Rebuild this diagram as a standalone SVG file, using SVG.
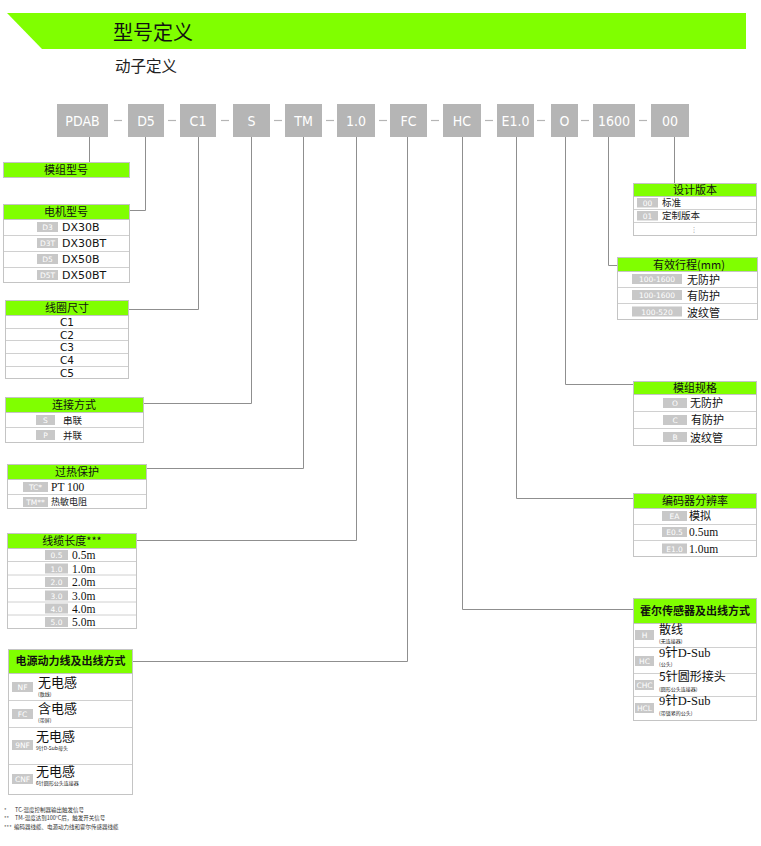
<svg xmlns="http://www.w3.org/2000/svg" width="761" height="846" viewBox="0 0 761 846">
<style>
.cjk{font-family:"Noto Sans CJK SC","Noto Sans",sans-serif}
.sans{font-family:"DejaVu Sans","Noto Sans CJK SC",sans-serif}
.serif{font-family:"Liberation Serif","Noto Sans CJK SC",serif}
.code rect{fill:#b5b5b5}
.code text{font-family:"DejaVu Sans Condensed","DejaVu Sans",sans-serif;font-stretch:condensed;font-size:14px;fill:#fff;text-anchor:middle}
.dash{stroke:#b5b5b5;stroke-width:1.2}
.box{fill:#fff;stroke:#c4c4c4;stroke-width:1}
.hd{fill:#80ff00;stroke:#c4c4c4;stroke-width:1}
.ln{stroke:#d0d0d0;stroke-width:1}
.ht{font-family:"Noto Sans CJK SC",sans-serif;font-size:11px;fill:#111;text-anchor:middle}
.lb{fill:#c8c8c8}
.lt{font-family:"DejaVu Sans",sans-serif;font-size:7.5px;fill:#fff;text-anchor:middle}
.t{font-size:11px;fill:#111}
.sub{font-family:"Noto Sans CJK SC",sans-serif;font-size:5px;fill:#222}
.con{fill:none;stroke:#8f8f8f;stroke-width:1}
.fn{font-family:"Noto Sans CJK SC",sans-serif;font-size:5.5px;fill:#333}
</style>

<g id="header">
<polygon points="7,13 746,13 746,49 42,49" fill="#80ff00"/>
<text x="113" y="40" class="cjk" font-size="20" fill="#111">型号定义</text>
<text x="115" y="72" class="cjk" font-size="15.5" fill="#222">动子定义</text>
</g>

<g id="code-row">
<g class="code">
<rect x="57" y="104" width="51" height="33"/><text x="82.5" y="126">PDAB</text>
<rect x="128" y="104" width="36" height="33"/><text x="146" y="126">D5</text>
<rect x="180" y="104" width="36" height="33"/><text x="198" y="126">C1</text>
<rect x="233" y="104" width="37" height="33"/><text x="251.5" y="126">S</text>
<rect x="285" y="104" width="37" height="33"/><text x="303.5" y="126">TM</text>
<rect x="337" y="104" width="38" height="33"/><text x="356" y="126">1.0</text>
<rect x="390" y="104" width="37" height="33"/><text x="408.5" y="126">FC</text>
<rect x="443" y="104" width="38" height="33"/><text x="462" y="126">HC</text>
<rect x="497" y="104" width="37" height="33"/><text x="515.5" y="126">E1.0</text>
<rect x="551" y="104" width="27" height="33"/><text x="564.5" y="126">O</text>
<rect x="593" y="104" width="42" height="33"/><text x="614" y="126">1600</text>
<rect x="651" y="104" width="38" height="33"/><text x="670" y="126">00</text>
</g>
<g class="dash">
<line x1="114" y1="120.5" x2="122" y2="120.5"/>
<line x1="168" y1="120.5" x2="176" y2="120.5"/>
<line x1="221" y1="120.5" x2="229" y2="120.5"/>
<line x1="274" y1="120.5" x2="282" y2="120.5"/>
<line x1="326" y1="120.5" x2="334" y2="120.5"/>
<line x1="379" y1="120.5" x2="387" y2="120.5"/>
<line x1="431" y1="120.5" x2="439" y2="120.5"/>
<line x1="485" y1="120.5" x2="493" y2="120.5"/>
<line x1="537" y1="120.5" x2="545" y2="120.5"/>
<line x1="581" y1="120.5" x2="589" y2="120.5"/>
<line x1="639" y1="120.5" x2="647" y2="120.5"/>
</g>
</g>

<g id="connectors">
<path class="con" d="M89.5 137V162"/>
<path class="con" d="M145.5 137V210.5H130"/>
<path class="con" d="M198.5 137V309.5H129"/>
<path class="con" d="M251.5 137V403.5H144"/>
<path class="con" d="M303.5 137V468.5H147"/>
<path class="con" d="M356.5 137V540.5H137"/>
<path class="con" d="M407.5 137V661.5H133"/>
<path class="con" d="M462.5 137V609.5H633"/>
<path class="con" d="M516.5 137V498.5H633"/>
<path class="con" d="M565.5 137V384.5H633"/>
<path class="con" d="M608.5 137V265.5H617"/>
<path class="con" d="M674.5 137V183"/>
</g>

<g id="node-module">
<rect class="hd" x="3.5" y="162.5" width="126" height="15"/>
<text class="ht" x="66" y="174">模组型号</text>
</g>

<g id="node-motor">
<rect class="box" x="3.5" y="204.5" width="126" height="78"/>
<rect class="hd" x="3.5" y="204.5" width="126" height="15"/>
<text class="ht" x="66" y="216">电机型号</text>
<line class="ln" x1="4" y1="235.5" x2="129" y2="235.5"/>
<line class="ln" x1="4" y1="251.5" x2="129" y2="251.5"/>
<line class="ln" x1="4" y1="267.5" x2="129" y2="267.5"/>
<rect class="lb" x="37" y="222" width="21" height="10"/><text class="lt" x="47.5" y="230">D3</text>
<rect class="lb" x="37" y="238" width="21" height="10"/><text class="lt" x="47.5" y="246">D3T</text>
<rect class="lb" x="37" y="254" width="21" height="10"/><text class="lt" x="47.5" y="262">D5</text>
<rect class="lb" x="37" y="270" width="21" height="10"/><text class="lt" x="47.5" y="278">D5T</text>
<text class="sans t" x="62" y="231">DX30B</text>
<text class="sans t" x="62" y="247">DX30BT</text>
<text class="sans t" x="62" y="263">DX50B</text>
<text class="sans t" x="62" y="279">DX50BT</text>
</g>

<g id="node-coil">
<rect class="box" x="5.5" y="300.5" width="123" height="78"/>
<rect class="hd" x="5.5" y="300.5" width="123" height="15"/>
<text class="ht" x="67" y="312">线圈尺寸</text>
<line class="ln" x1="6" y1="328.5" x2="128" y2="328.5"/>
<line class="ln" x1="6" y1="340.5" x2="128" y2="340.5"/>
<line class="ln" x1="6" y1="353.5" x2="128" y2="353.5"/>
<line class="ln" x1="6" y1="366.5" x2="128" y2="366.5"/>
<g class="sans" font-size="10.5" fill="#111" text-anchor="middle">
<text x="67" y="326">C1</text>
<text x="67" y="338.5">C2</text>
<text x="67" y="351">C3</text>
<text x="67" y="364">C4</text>
<text x="67" y="376.5">C5</text>
</g>
</g>

<g id="node-connect">
<rect class="box" x="5.5" y="397.5" width="138" height="45"/>
<rect class="hd" x="5.5" y="397.5" width="138" height="15"/>
<text class="ht" x="74" y="409">连接方式</text>
<line class="ln" x1="6" y1="427.5" x2="143" y2="427.5"/>
<rect class="lb" x="36" y="415" width="19" height="10"/><text class="lt" x="45.5" y="423">S</text>
<rect class="lb" x="36" y="430" width="19" height="10"/><text class="lt" x="45.5" y="438">P</text>
<text class="cjk" font-size="9.5" fill="#222" x="63" y="424">串联</text>
<text class="cjk" font-size="9.5" fill="#222" x="63" y="439">并联</text>
</g>

<g id="node-overheat">
<rect class="box" x="7.5" y="464.5" width="139" height="44"/>
<rect class="hd" x="7.5" y="464.5" width="139" height="15"/>
<text class="ht" x="77" y="476">过热保护</text>
<line class="ln" x1="8" y1="494.5" x2="146" y2="494.5"/>
<rect class="lb" x="23" y="482" width="25" height="10"/><text class="lt" x="35.5" y="490">TC*</text>
<rect class="lb" x="23" y="497" width="25" height="10"/><text class="lt" x="35.5" y="505">TM**</text>
<text class="serif" font-size="11.5" fill="#111" x="51" y="491">PT 100</text>
<text class="cjk" font-size="9" fill="#222" x="51" y="505">热敏电阻</text>
</g>

<g id="node-cable">
<rect class="box" x="7.5" y="533.5" width="129" height="95"/>
<rect class="hd" x="7.5" y="533.5" width="129" height="15"/>
<text class="ht" x="72" y="545">线缆长度***</text>
<line class="ln" x1="8" y1="561.5" x2="136" y2="561.5"/>
<line class="ln" x1="8" y1="575" x2="136" y2="575"/>
<line class="ln" x1="8" y1="588.5" x2="136" y2="588.5"/>
<line class="ln" x1="8" y1="602" x2="136" y2="602"/>
<line class="ln" x1="8" y1="615" x2="136" y2="615"/>
<rect class="lb" x="45" y="550" width="23" height="10"/><text class="lt" x="56.5" y="558">0.5</text>
<rect class="lb" x="45" y="563.5" width="23" height="10"/><text class="lt" x="56.5" y="571.5">1.0</text>
<rect class="lb" x="45" y="577" width="23" height="10"/><text class="lt" x="56.5" y="585">2.0</text>
<rect class="lb" x="45" y="590.5" width="23" height="10"/><text class="lt" x="56.5" y="598.5">3.0</text>
<rect class="lb" x="45" y="603.5" width="23" height="10"/><text class="lt" x="56.5" y="611.5">4.0</text>
<rect class="lb" x="45" y="617" width="23" height="10"/><text class="lt" x="56.5" y="625">5.0</text>
<g class="serif" font-size="11.5" fill="#111">
<text x="72" y="559">0.5m</text>
<text x="72" y="572.5">1.0m</text>
<text x="72" y="586">2.0m</text>
<text x="72" y="599.5">3.0m</text>
<text x="72" y="612.5">4.0m</text>
<text x="72" y="626">5.0m</text>
</g>
</g>

<g id="node-power">
<rect class="box" x="8.5" y="649.5" width="124" height="145"/>
<rect class="hd" x="8.5" y="649.5" width="124" height="24"/>
<text class="ht" x="70.5" y="665" font-weight="bold">电源动力线及出线方式</text>
<line class="ln" x1="9" y1="700.5" x2="132" y2="700.5"/>
<line class="ln" x1="9" y1="727.5" x2="132" y2="727.5"/>
<line class="ln" x1="9" y1="764.5" x2="132" y2="764.5"/>
<rect class="lb" x="12" y="682" width="21" height="10"/><text class="lt" x="22.5" y="690">NF</text>
<rect class="lb" x="12" y="709" width="21" height="10"/><text class="lt" x="22.5" y="717">FC</text>
<rect class="lb" x="12" y="740" width="21" height="10"/><text class="lt" x="22.5" y="748">9NF</text>
<rect class="lb" x="12" y="774" width="21" height="10"/><text class="lt" x="22.5" y="782">CNF</text>
<g class="cjk" font-size="13" fill="#111">
<text x="38" y="687">无电感</text>
<text x="38" y="713">含电感</text>
<text x="36" y="741">无电感</text>
<text x="36" y="776">无电感</text>
</g>
<text class="sub" x="38" y="695.5">(散线)</text>
<text class="sub" x="38" y="721.5">(带屏)</text>
<text class="sub" x="36" y="750">9针D-Sub母头</text>
<text class="sub" x="36" y="785">6针圆形公头连接器</text>
</g>

<g id="node-version">
<rect class="box" x="633.5" y="183.5" width="123" height="52"/>
<rect class="hd" x="633.5" y="183.5" width="123" height="13"/>
<text class="ht" x="695" y="194">设计版本</text>
<line class="ln" x1="634" y1="209.5" x2="756" y2="209.5"/>
<line class="ln" x1="634" y1="222.5" x2="756" y2="222.5"/>
<rect class="lb" x="637" y="198" width="21" height="9.5"/><text class="lt" x="647.5" y="205.5">00</text>
<rect class="lb" x="637" y="211" width="21" height="9.5"/><text class="lt" x="647.5" y="218.5">01</text>
<text class="cjk" font-size="9.5" fill="#222" x="662" y="205.5">标准</text>
<text class="cjk" font-size="9.5" fill="#222" x="662" y="219">定制版本</text>
<text class="sans" font-size="7" fill="#888" x="694" y="232" text-anchor="middle">⋮</text>
</g>

<g id="node-stroke">
<rect class="box" x="617.5" y="257.5" width="140" height="62"/>
<rect class="hd" x="617.5" y="257.5" width="140" height="14"/>
<text class="ht" x="689" y="268.5">有效行程(mm)</text>
<line class="ln" x1="618" y1="287.5" x2="757" y2="287.5"/>
<line class="ln" x1="618" y1="303.5" x2="757" y2="303.5"/>
<rect class="lb" x="632" y="274" width="50" height="10"/><text class="lt" x="657" y="282">100-1600</text>
<rect class="lb" x="632" y="290" width="50" height="10"/><text class="lt" x="657" y="298">100-1600</text>
<rect class="lb" x="632" y="306.5" width="50" height="10"/><text class="lt" x="657" y="314.5">100-520</text>
<g class="cjk" font-size="11" fill="#111">
<text x="687" y="284">无防护</text>
<text x="687" y="300">有防护</text>
<text x="687" y="316.5">波纹管</text>
</g>
</g>

<g id="node-spec">
<rect class="box" x="633.5" y="381.5" width="123" height="64"/>
<rect class="hd" x="633.5" y="381.5" width="123" height="13"/>
<text class="ht" x="695" y="392">模组规格</text>
<line class="ln" x1="634" y1="411.5" x2="756" y2="411.5"/>
<line class="ln" x1="634" y1="428.5" x2="756" y2="428.5"/>
<rect class="lb" x="663" y="398" width="24" height="10"/><text class="lt" x="675" y="406">O</text>
<rect class="lb" x="663" y="415" width="24" height="10"/><text class="lt" x="675" y="423">C</text>
<rect class="lb" x="663" y="432" width="24" height="10"/><text class="lt" x="675" y="440">B</text>
<g class="cjk" font-size="11" fill="#111">
<text x="690" y="407">无防护</text>
<text x="691" y="424">有防护</text>
<text x="690" y="441.5">波纹管</text>
</g>
</g>

<g id="node-encoder">
<rect class="box" x="633.5" y="493.5" width="123" height="63"/>
<rect class="hd" x="633.5" y="493.5" width="123" height="15"/>
<text class="ht" x="695" y="505">编码器分辨率</text>
<line class="ln" x1="634" y1="524.5" x2="756" y2="524.5"/>
<line class="ln" x1="634" y1="540.5" x2="756" y2="540.5"/>
<rect class="lb" x="662" y="511" width="25" height="10"/><text class="lt" x="674.5" y="519">EA</text>
<rect class="lb" x="662" y="527" width="25" height="10"/><text class="lt" x="674.5" y="535">E0.5</text>
<rect class="lb" x="662" y="543.5" width="25" height="10"/><text class="lt" x="674.5" y="551.5">E1.0</text>
<text class="cjk" font-size="11" fill="#111" x="689" y="520">模拟</text>
<text class="serif" font-size="11.5" fill="#111" x="689" y="536">0.5um</text>
<text class="serif" font-size="11.5" fill="#111" x="689" y="552.5">1.0um</text>
</g>

<g id="node-hall">
<rect class="box" x="633.5" y="598.5" width="123" height="122"/>
<rect class="hd" x="633.5" y="598.5" width="123" height="25"/>
<text class="ht" x="695" y="614.5" font-size="11.5" font-weight="bold">霍尔传感器及出线方式</text>
<line class="ln" x1="634" y1="647.5" x2="756" y2="647.5"/>
<line class="ln" x1="634" y1="673.5" x2="756" y2="673.5"/>
<line class="ln" x1="634" y1="696.5" x2="756" y2="696.5"/>
<rect class="lb" x="635" y="630" width="19" height="10"/><text class="lt" x="644.5" y="638">H</text>
<rect class="lb" x="635" y="656" width="19" height="10"/><text class="lt" x="644.5" y="664">HC</text>
<rect class="lb" x="635" y="680" width="19" height="10"/><text class="lt" x="644.5" y="688">CHC</text>
<rect class="lb" x="635" y="703" width="19" height="10"/><text class="lt" x="644.5" y="711">HCL</text>
<text class="cjk" font-size="12" fill="#111" x="659" y="634">散线</text>
<text class="sub" x="659" y="643">(无连接器)</text>
<text class="serif" font-size="12.5" fill="#111" x="659" y="657">9针D-Sub</text>
<text class="sub" x="659" y="666">(公头)</text>
<text class="cjk" font-size="12" fill="#111" x="659" y="681">5针圆形接头</text>
<text class="sub" x="659" y="691">(圆形公头连接器)</text>
<text class="serif" font-size="12.5" fill="#111" x="659" y="705">9针D-Sub</text>
<text class="sub" x="659" y="715">(带锁紧的公头)</text>
</g>

<g id="footnotes">
<text class="fn" x="4" y="812">*</text><text class="fn" x="15" y="812">TC-温度控制器输出触发信号</text>
<text class="fn" x="4" y="820">**</text><text class="fn" x="15" y="820">TM-温度达到100°C后，触发开关信号</text>
<text class="fn" x="4" y="829">***</text><text class="fn" x="14" y="829">编码器线缆、电源动力线和霍尔传感器线缆</text>
</g>
</svg>
